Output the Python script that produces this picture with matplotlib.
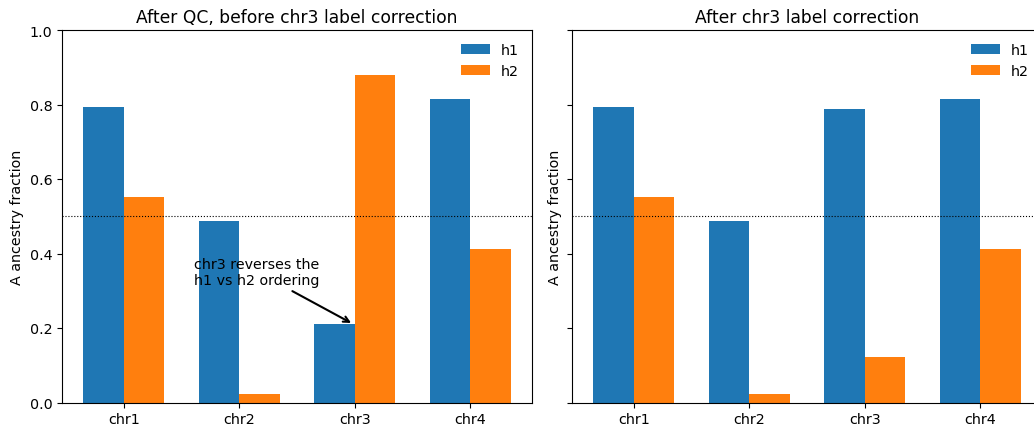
import numpy as np
import matplotlib
matplotlib.use("Agg")
import matplotlib.pyplot as plt

chroms = ["chr1", "chr2", "chr3", "chr4"]
h1_before = [0.793, 0.487, 0.211, 0.815]
h2_before = [0.552, 0.022, 0.879, 0.413]
h1_after = [0.793, 0.487, 0.789, 0.815]
h2_after = [0.552, 0.022, 0.121, 0.413]

plt.rcParams["font.size"] = 10.25

fig = plt.figure(figsize=(10.34, 4.27), dpi=100)
ax1 = fig.add_axes([62 / 1034, 23.5 / 427, 470 / 1034, 372.5 / 427])
ax2 = fig.add_axes([572 / 1034, 23.5 / 427, 470 / 1034, 372.5 / 427], sharey=ax1)

x = np.arange(len(chroms))
w = 0.35

for ax, h1, h2, title in [(ax1, h1_before, h2_before, "After QC, before chr3 label correction"),
                          (ax2, h1_after, h2_after, "After chr3 label correction")]:
    ax.bar(x - w / 2, h1, w, label="h1", color="#1f77b4")
    ax.bar(x + w / 2, h2, w, label="h2", color="#ff7f0e")
    ax.axhline(0.5, color="black", linestyle=":", linewidth=0.8)
    ax.set_xticks(x)
    ax.set_xticklabels(chroms)
    ax.set_ylabel("A ancestry fraction")
    ax.set_title(title, fontsize=12.3)
    ax.legend(frameon=False, loc="upper right")

ax1.set_ylim(0, 1.0)
plt.setp(ax2.get_yticklabels(), visible=False)

ax1.annotate("chr3 reverses the\nh1 vs h2 ordering", xy=(1.99, 0.21), xytext=(0.61, 0.31),
             ha="left", va="bottom",
             arrowprops=dict(arrowstyle="->", color="black", lw=1.5))

fig.savefig("out.png", dpi=100)
